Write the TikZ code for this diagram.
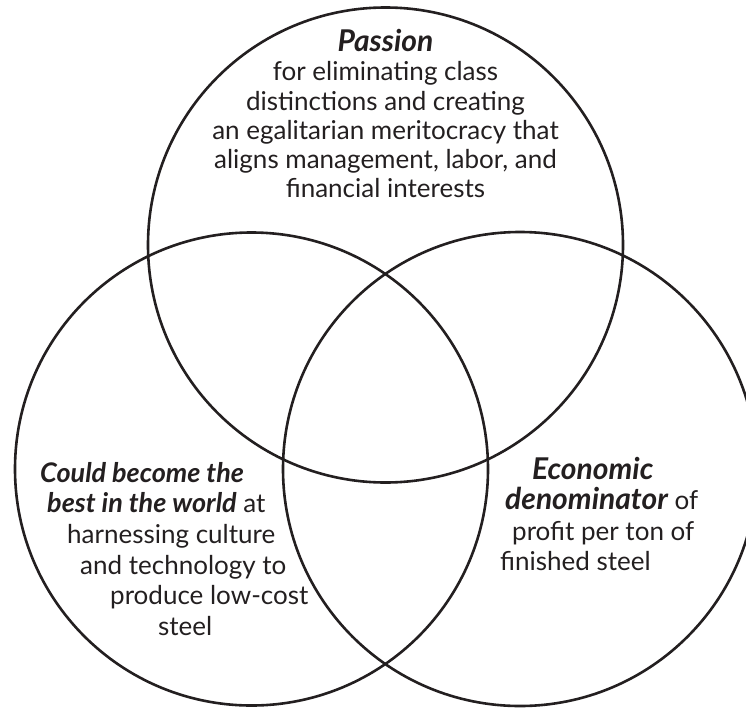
\documentclass[tikz,border=0pt]{standalone}
\usepackage{fontspec}
\setmainfont{Lato}
\definecolor{ink}{HTML}{231F20}
\tikzset{
  ring/.style={draw=ink, line width=2.6pt},
  txt/.style={anchor=base, inner sep=0pt, text=ink, font=\fontsize{26}{30}\selectfont},
  txtw/.style={txt, anchor=base west},
  hd/.style={font=\fontsize{30}{30}\selectfont\bfseries\itshape}
}
\newcommand{\hw}[1]{{\fontsize{27}{30}\selectfont\bfseries\itshape #1}}
\newcommand{\hr}[1]{{\fontsize{30}{30}\selectfont\bfseries\itshape #1}}
\begin{document}
\begin{tikzpicture}[x=1pt,y=-1pt]
\useasboundingbox (0,0) rectangle (746,709);
\node[ring, circle, minimum size=475pt, inner sep=0pt] (top) at (385.5,245) {};
\node[ring, circle, minimum size=473pt, inner sep=0pt] (left) at (251.5,469) {};
\node[ring, circle, minimum size=474pt, inner sep=0pt] (right) at (520,469) {};
% top text
\node[txt, hd] (t0) at (385.5,52) {Passion};
\node[txt] (t1) at (385.5,81) {for eliminating class};
\node[txt] (t2) at (385.5,110) {distinctions and creating};
\node[txt] (t3) at (385.5,139) {an egalitarian meritocracy that};
\node[txt] (t4) at (385.5,168) {aligns management, labor, and};
\node[txt] (t5) at (385.5,197) {financial interests};
% left text
\node[txtw] (l1) at (40,482) {\hw{Could become the}};
\node[txtw] (l2) at (47,512) {\hw{best in the world} at};
\node[txtw] (l3) at (67,543) {harnessing culture};
\node[txtw] (l4) at (80,574) {and technology to};
\node[txtw] (l5) at (110,604) {produce low-cost};
\node[txtw] (l6) at (158,635) {steel};
% right text
\node[txtw] (r1) at (532,479) {\hr{Economic}};
\node[txtw] (r2) at (505,509) {\hr{denominator} of};
\node[txtw] (r3) at (512,540) {profit per ton of};
\node[txtw] (r4) at (500,570) {finished steel};
\end{tikzpicture}
\end{document}
